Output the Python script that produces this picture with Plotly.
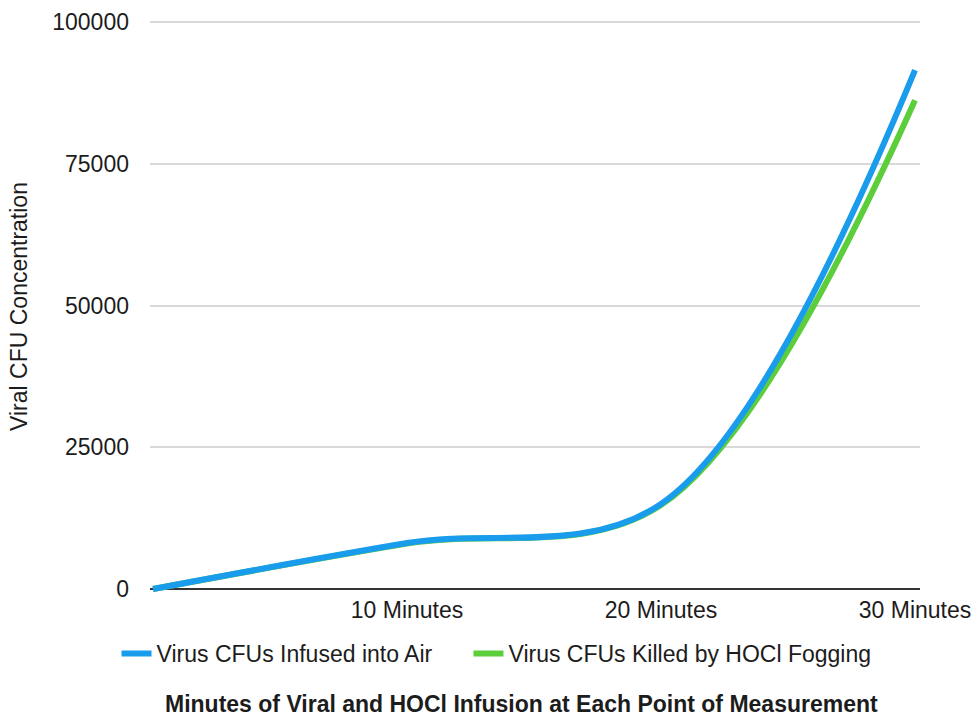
import plotly.graph_objects as go

categories = ["", "10 Minutes", "20 Minutes", "30 Minutes"]
infused = [0, 8100, 15000, 91500]
killed = [0, 8000, 14800, 86200]
y_ticks = [0, 25000, 50000, 75000, 100000]
x_title = "Minutes of Viral and HOCl Infusion at Each Point of Measurement"
y_title = "Viral CFU Concentration"

xpos = list(range(len(categories)))
font_family = "Liberation Sans, Arial, Helvetica, sans-serif"
FS = 23

fig = go.Figure()
fig.add_trace(go.Scatter(
    x=xpos, y=killed, mode="lines", name="Virus CFUs Killed by HOCl Fogging",
    line=dict(color="#5cce3c", width=6, shape="spline", smoothing=1.0),
    legend="legend2",
))
fig.add_trace(go.Scatter(
    x=xpos, y=infused, mode="lines", name="Virus CFUs Infused into Air",
    line=dict(color="#1a9cec", width=6, shape="spline", smoothing=1.0),
    legend="legend",
))

legend_common = dict(orientation="h", xanchor="left", y=-0.066, yanchor="top",
                     font=dict(size=FS), bgcolor="rgba(0,0,0,0)")

fig.update_layout(
    width=975, height=717,
    margin=dict(l=150, r=55, t=19, b=123),
    paper_bgcolor="white", plot_bgcolor="white",
    font=dict(family=font_family, size=FS, color="#1c1c1c"),
    showlegend=True,
    legend=dict(x=-0.0435, **legend_common),
    legend2=dict(x=0.4136, **legend_common),
    xaxis=dict(
        range=[-0.0118, 3.0197], tickmode="array", tickvals=xpos[1:], ticktext=categories[1:],
        showgrid=False, zeroline=False, showline=False, ticks="", automargin=False,
    ),
    yaxis=dict(
        range=[-880, 100530], tickmode="array", tickvals=y_ticks,
        ticktext=[str(v) for v in y_ticks],
        showgrid=True, gridcolor="#d9d9d9", gridwidth=1.5,
        zeroline=True, zerolinecolor="#333333", zerolinewidth=2,
        ticks="", ticklabelstandoff=20, automargin=False,
        title=dict(text=y_title, font=dict(size=FS), standoff=18),
    ),
    annotations=[dict(
        text="<b>" + x_title + "</b>", xref="paper", yref="paper",
        x=0.483, y=-0.1915, xanchor="center", yanchor="middle",
        showarrow=False, font=dict(size=FS),
    )],
)

fig.write_html("out.html", config={"displayModeBar": False},
               post_script="document.body.style.margin='0';document.body.style.overflow='hidden';")
